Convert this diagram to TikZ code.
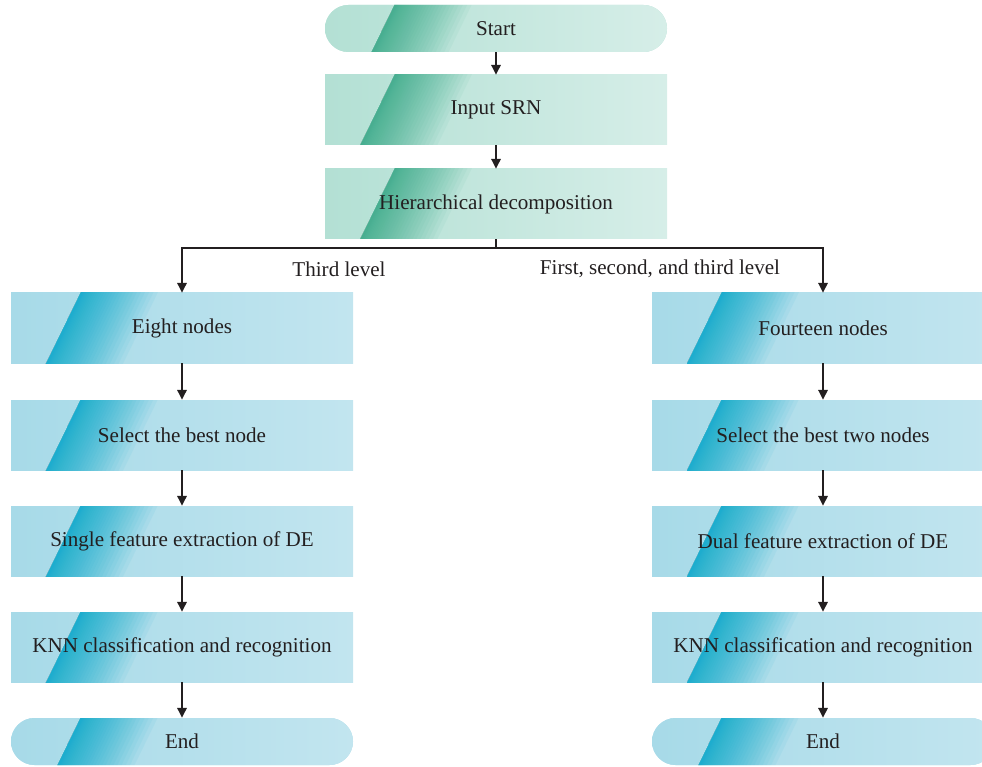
\documentclass[tikz,border=0pt]{standalone}
\usepackage{fontspec}
\setmainfont{Liberation Serif}
\usepackage{tikz}
\usepackage{xcolor}
\usetikzlibrary{arrows.meta,positioning,calc}
\definecolor{tealbase}{HTML}{B3E0D4}
\definecolor{teallite}{HTML}{D6EEE8}
\definecolor{tealdark}{HTML}{3DAE8C}
\definecolor{bluebase}{HTML}{A7DAE8}
\definecolor{bluelite}{HTML}{C2E5EF}
\definecolor{bluedark}{HTML}{0EADCE}
\definecolor{inkgray}{HTML}{231F20}

\begin{document}
\begin{tikzpicture}[
  % glossy fill: base shading plus a slanted dark band fading to the right
  gloss/.style n args={3}{
    fill=#2, text=inkgray, font=\fontsize{12}{14}\selectfont,
    minimum width=6.84cm, inner sep=0pt,
    path picture={
      \shade[sharp corners, left color=#2, right color=#3]
        (path picture bounding box.south west) rectangle (path picture bounding box.north east);
      % stacked translucent bands, all starting at the slash
      \foreach \k in {1,...,30} {
        \pgfmathsetmacro{\w}{0.04+1.5*(\k/30)^1.8}
        \fill[sharp corners, #1, opacity=0.062]
          ($(path picture bounding box.north west)+(1.44,0.1)$)
          -- ++(\w,0) -- ++(-0.85,-1.74) -- ++(-\w,0) -- cycle;
      }
    }},
  boxT/.style={gloss={tealdark}{tealbase}{teallite}, minimum height=1.4cm},
  termT/.style={gloss={tealdark}{tealbase}{teallite}, minimum height=0.94cm, rounded corners=0.47cm},
  boxB/.style={gloss={bluedark}{bluebase}{bluelite}, minimum height=1.4cm},
  termB/.style={gloss={bluedark}{bluebase}{bluelite}, minimum height=0.94cm, rounded corners=0.47cm},
  flow/.style={draw=inkgray, line width=0.7pt, -{Triangle[length=5.5pt, width=5.4pt]}},
  lvl/.style={text=inkgray, font=\fontsize{12}{14}\selectfont},
]
\useasboundingbox (0,0) rectangle (19.64,-15.34);
\def\xM{9.92}\def\xL{3.64}\def\xR{16.46}

% main trunk
\node[termT] (start)  at (\xM,-0.57) {Start};
\node[boxT]  (input)  at (\xM,-2.2)  {Input SRN};
\node[boxT]  (decomp) at (\xM,-4.08) {Hierarchical decomposition};
\coordinate (split) at (\xM,-4.96);

% two branches
\foreach \n/\y/\t in {1/-6.56/Eight nodes, 2/-8.7/Select the best node,
    3/-10.82/Single feature extraction of DE, 4/-12.94/KNN classification and recognition}
  \node[boxB] (l\n) at (\xL,\y) {\t};
\foreach \n/\y/\t in {1/-6.56/Fourteen nodes, 2/-8.7/Select the best two nodes,
    3/-10.82/Dual feature extraction of DE, 4/-12.94/KNN classification and recognition}
  \node[boxB] (r\n) at (\xR,\y) {\t};
\node[termB] (lend) at (\xL,-14.83) {End};
\node[termB] (rend) at (\xR,-14.83) {End};

\node[lvl] (lvlL) at (6.78,-5.38) {Third level};
\node[lvl] (lvlR) at (13.2,-5.38) {First, second, and third level};

% connectors
\draw[flow] (start) -- (input);
\draw[flow] (input) -- (decomp);
\draw[draw=inkgray, line width=0.7pt] (decomp) -- (split);
\draw[flow] (split) -| (l1);
\draw[flow] (split) -| (r1);
\foreach \a/\b in {l1/l2, l2/l3, l3/l4, l4/lend, r1/r2, r2/r3, r3/r4, r4/rend}
  \draw[flow] (\a) -- (\b);
\end{tikzpicture}
\end{document}
